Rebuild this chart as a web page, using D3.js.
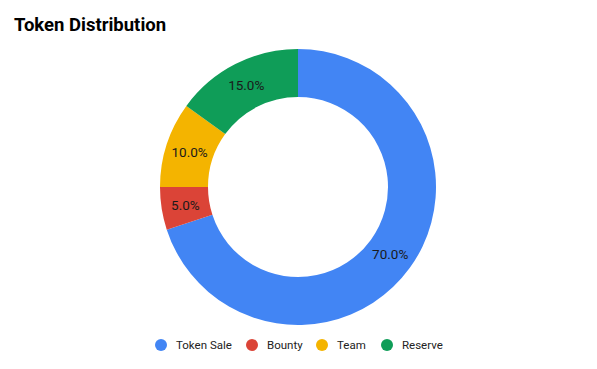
<!DOCTYPE html>
<html>
<head>
<meta charset="utf-8">
<script src="https://cdn.jsdelivr.net/npm/d3@7"></script>
<style>
  body { margin: 0; background: #fff; }
  svg { display: block; font-family: Roboto, sans-serif; }
</style>
</head>
<body>
<div class="plotWin"></div>
<script>
var categories = ["Token Sale", "Bounty", "Team", "Reserve"];
var shares = [70, 5, 10, 15];
var colours = ["#4285F4", "#DB4437", "#F4B400", "#0F9D58"];

var SVG_WIDTH = 597,
	SVG_HEIGHT = 369,
	CX = 298,
	CY = 187,
	R_OUT = 138,
	R_IN = 90;

var svg = d3.select(".plotWin")
	.append("svg")
		.attr("width", SVG_WIDTH)
		.attr("height", SVG_HEIGHT);

svg.append("text")
	.attr("x", 14)
	.attr("y", 31)
	.attr("font-size", 18.5)
	.attr("font-weight", "bold")
	.attr("fill", "#000")
	.text("Token Distribution");

var data = categories.map(function(c, i) {
	return { name: c, value: shares[i], colour: colours[i] };
});

var pie = d3.pie()
	.sort(null)
	.value(function(d) { return d.value; });

var arc = d3.arc()
	.innerRadius(R_IN)
	.outerRadius(R_OUT);

var labelArc = d3.arc()
	.innerRadius((R_IN + R_OUT) / 2)
	.outerRadius((R_IN + R_OUT) / 2);

var total = d3.sum(shares);

var g = svg.append("g")
	.attr("transform", "translate(" + CX + "," + CY + ")");

var slices = g.selectAll("g.slice")
	.data(pie(data))
	.enter()
	.append("g")
		.attr("class", "slice");

slices.append("path")
	.attr("d", arc)
	.attr("fill", function(d) { return d.data.colour; });

slices.append("text")
	.attr("transform", function(d) { return "translate(" + labelArc.centroid(d) + ")"; })
	.attr("text-anchor", "middle")
	.attr("dy", "0.36em")
	.attr("font-size", 13.5)
	.attr("fill", "#1a1a1a")
	.text(function(d) { return (d.data.value / total * 100).toFixed(1) + "%"; });

// legend
var legendX = [161, 252, 322, 387];
var legend = svg.selectAll("g.legend")
	.data(data)
	.enter()
	.append("g")
		.attr("class", "legend")
		.attr("transform", function(d, i) { return "translate(" + legendX[i] + ",345)"; });

legend.append("circle")
	.attr("r", 6)
	.attr("fill", function(d) { return d.colour; });

legend.append("text")
	.attr("x", 15)
	.attr("dy", "0.36em")
	.attr("font-size", 11.5)
	.attr("fill", "#222")
	.text(function(d) { return d.name; });
</script>
</body>
</html>
